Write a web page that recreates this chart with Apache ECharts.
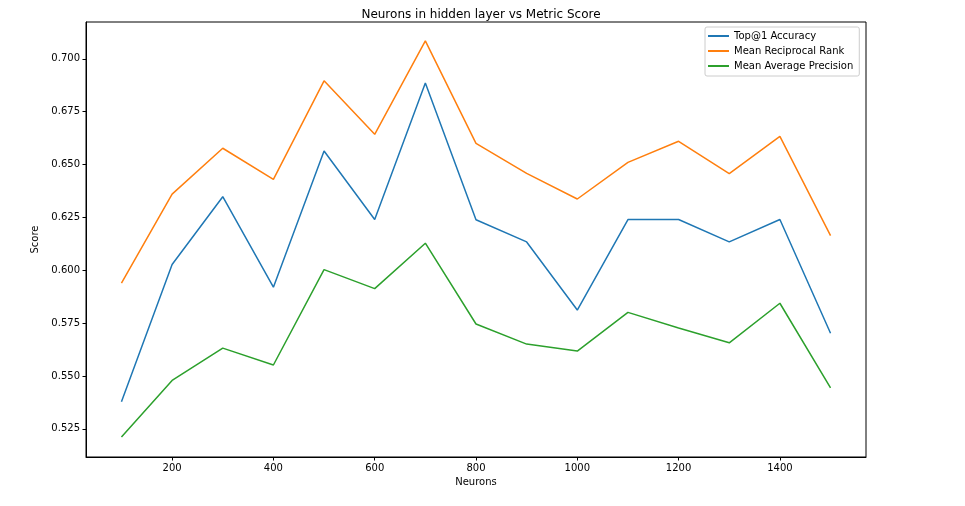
<!DOCTYPE html>
<html>
<head>
<meta charset="utf-8">
<title>Neurons in hidden layer vs Metric Score</title>
<script src="https://cdn.jsdelivr.net/npm/echarts@6/dist/echarts.min.js"></script>
<style>
  html, body { margin: 0; padding: 0; background: #fff; }
  #chart { width: 965px; height: 506px; }
</style>
</head>
<body>
<div id="chart"></div>
<script>
// 数据
const neurons = [100, 200, 300, 400, 500, 600, 700, 800, 900, 1000, 1100, 1200, 1300, 1400, 1500]
const top1Accuracy = [0.5378, 0.6027, 0.6348, 0.5920, 0.6564, 0.6240, 0.6886, 0.6239, 0.6134, 0.5812, 0.6240, 0.6240, 0.6134, 0.6240, 0.5702]
const meanReciprocalRank = [0.5939, 0.6360, 0.6577, 0.6430, 0.6896, 0.6643, 0.7085, 0.6600, 0.6458, 0.6337, 0.6510, 0.6610, 0.6457, 0.6633, 0.6164]
const meanAvgPrecision = [0.5212, 0.5479, 0.5632, 0.5552, 0.6003, 0.5913, 0.6128, 0.5746, 0.5651, 0.5618, 0.5801, 0.5727, 0.5657, 0.5844, 0.5444]
const xTicks = [200, 400, 600, 800, 1000, 1200, 1400]
const yTicks = [0.525, 0.55, 0.575, 0.6, 0.625, 0.65, 0.675, 0.7]

const font = "DejaVu Sans"

function pairs(ys) {
  return neurons.map((x, i) => [x, ys[i]])
}

function lineSeries(name, ys, color) {
  return {
    name: name,
    type: "line",
    data: pairs(ys),
    symbol: "none",
    color: color,
    lineStyle: { width: 1.5, color: color },
    animation: false
  }
}

const chart = echarts.init(document.getElementById("chart"))
chart.setOption({
  backgroundColor: "#fff",
  textStyle: { fontFamily: font },
  title: {
    text: "Neurons in hidden layer vs Metric Score",
    left: 476,
    top: 4,
    textAlign: "center",
    textStyle: { fontFamily: font, fontSize: 12, fontWeight: "normal", color: "#000" }
  },
  grid: {
    left: 86, right: 99, top: 22, bottom: 49,
    show: true, borderColor: "#000", borderWidth: 1, backgroundColor: "#fff"
  },
  legend: {
    orient: "vertical",
    left: 705,
    top: 27,
    padding: [3, 6, 4, 3],
    itemGap: 3,
    itemWidth: 21,
    itemHeight: 2,
    icon: "rect",
    borderColor: "#ccc",
    borderWidth: 1,
    borderRadius: 2,
    textStyle: { fontFamily: font, fontSize: 10, color: "#000", lineHeight: 12 },
    data: ["Top@1 Accuracy", "Mean Reciprocal Rank", "Mean Average Precision"]
  },
  xAxis: {
    type: "value",
    min: 30,
    max: 1570,
    name: "Neurons",
    nameLocation: "middle",
    nameGap: 20,
    nameTextStyle: { fontFamily: font, fontSize: 10, color: "#000" },
    splitLine: { show: false },
    axisLine: { show: true, lineStyle: { color: "#000" } },
    axisTick: { show: true, length: 3.5, customValues: xTicks, lineStyle: { color: "#000" } },
    axisLabel: {
      customValues: xTicks,
      fontFamily: font, fontSize: 10, color: "#000", margin: 6,
      formatter: (v) => String(v)
    }
  },
  yAxis: {
    type: "value",
    min: 0.5117,
    max: 0.7174,
    name: "Score",
    nameLocation: "middle",
    nameGap: 46,
    nameTextStyle: { fontFamily: font, fontSize: 10, color: "#000" },
    splitLine: { show: false },
    axisLine: { show: true, lineStyle: { color: "#000" } },
    axisTick: { show: true, length: 3.5, customValues: yTicks, lineStyle: { color: "#000" } },
    axisLabel: {
      customValues: yTicks,
      fontFamily: font, fontSize: 10, color: "#000", margin: 6,
      formatter: (v) => v.toFixed(3)
    }
  },
  series: [
    lineSeries("Top@1 Accuracy", top1Accuracy, "#1f77b4"),
    lineSeries("Mean Reciprocal Rank", meanReciprocalRank, "#ff7f0e"),
    lineSeries("Mean Average Precision", meanAvgPrecision, "#2ca02c")
  ]
})
window.addEventListener("resize", () => {
  chart.resize()
})
</script>
</body>
</html>
